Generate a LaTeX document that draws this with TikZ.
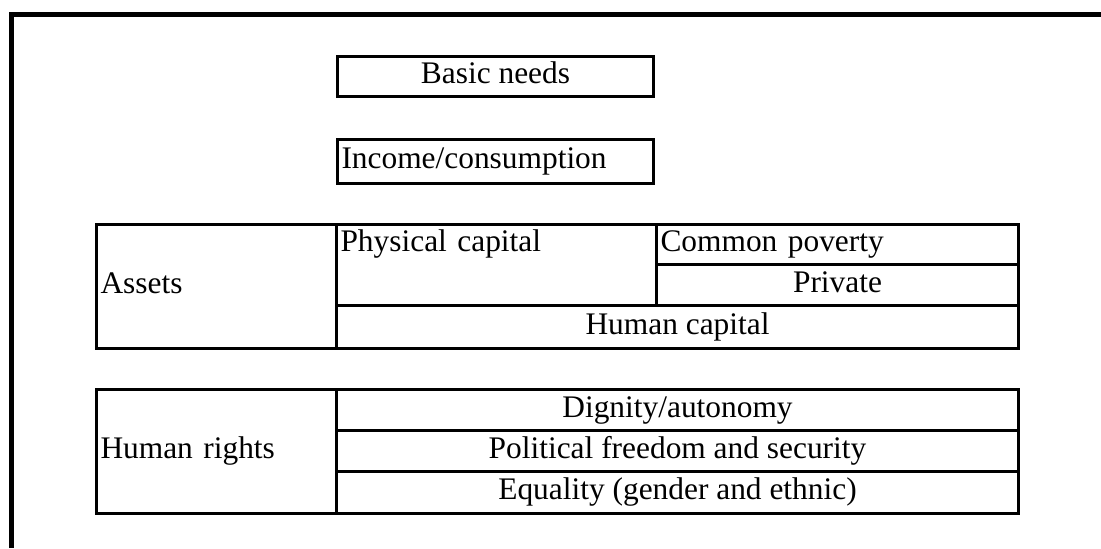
\documentclass[tikz,border=0pt]{standalone}
\usepackage{fontspec}
\setmainfont{Liberation Serif}
\usetikzlibrary{positioning}

\tikzset{
  cell/.style={draw, line width=1.5pt, anchor=north west, inner xsep=2pt, inner ysep=0pt,
               text height=0.74em, text depth=0pt},
  lcell/.style={cell, align=left},
  ccell/.style={cell, align=center},
}

\begin{document}
\begin{tikzpicture}[x=0.5pt, y=-0.5pt, font=\fontsize{15.7}{18}\selectfont]
  \useasboundingbox (0,0) rectangle (1101,548);

  % outer frame
  \draw[line width=2.5pt] (11.5,548) -- (11.5,14) -- (1101,14);

  % single boxes
  \node[ccell, minimum width=158pt, minimum height=20pt] (basic) at (336,55) {Basic needs};
  \node[lcell, text width=154pt, minimum height=22pt] (income) at (336,138) {Income/consumption};

  % assets block
  \node[lcell, text width=116pt, minimum height=62pt] (assets) at (95,223) {Assets};
  \node[cell, minimum width=160pt, minimum height=40.5pt] (phys) at (335,223) {};
  \node[lcell, draw=none, text width=156pt, minimum height=20pt] (physT) at (335,223) {Physical capital};
  \node[lcell, text width=177pt, minimum height=20pt] (common) at (655,223) {Common poverty};
  \node[ccell, minimum width=181pt, minimum height=20.5pt] (private) at (655,263) {Private};
  \node[ccell, minimum width=341pt, minimum height=21.5pt] (humcap) at (335,304) {Human capital};

  % human rights block
  \node[lcell, text width=116pt, minimum height=62pt] (rights) at (95,388) {Human rights};
  \node[ccell, minimum width=341pt, minimum height=20.5pt] (dignity) at (335,388) {Dignity/autonomy};
  \node[ccell, minimum width=341pt, minimum height=20.5pt] (freedom) at (335,429) {Political freedom and security};
  \node[ccell, minimum width=341pt, minimum height=21pt] (equality) at (335,470) {Equality (gender and ethnic)};
\end{tikzpicture}
\end{document}
